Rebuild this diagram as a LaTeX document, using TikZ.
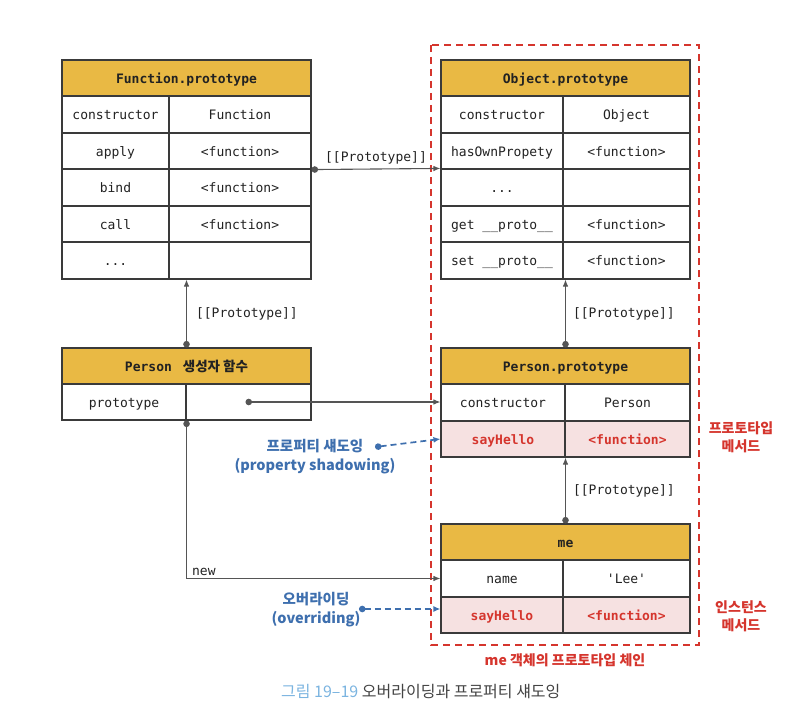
\documentclass[tikz,border=0pt]{standalone}
\usepackage{fontspec}
\setmonofont{DejaVu Sans Mono}
\newfontfamily\kr{Noto Sans CJK KR}
\usetikzlibrary{arrows.meta}
\definecolor{gold}{HTML}{E9B944}
\definecolor{pinkc}{HTML}{F6E1E1}
\definecolor{redc}{HTML}{D5352D}
\definecolor{bluec}{HTML}{3E6FAE}
\definecolor{capblue}{HTML}{7BB4E0}
\definecolor{linec}{HTML}{3A3A3A}
\definecolor{connc}{HTML}{555555}
\definecolor{txt}{HTML}{222222}
\newcommand\monof{\ttfamily\fontsize{13}{15}\selectfont}
\newcommand\trow[9]{%
 \node[#9, minimum width={(#3-#2)*1pt}, minimum height={(#6-#5)*1pt}] (#1a) at ({(#2+#3)/2},{(#5+#6)/2}) {#7};
 \node[#9, minimum width={(#4-#3)*1pt}, minimum height={(#6-#5)*1pt}] (#1b) at ({(#3+#4)/2},{(#5+#6)/2}) {#8};}
\tikzset{
 box/.style={draw=linec, line width=1.1pt, inner sep=0pt, font=\monof, text=txt, text height=11pt, text depth=0.8pt},
 cellw/.style={box, fill=white},
 hdr/.style={box, fill=gold, font=\monof\bfseries},
 pinkcell/.style={box, fill=pinkc, text=redc, font=\monof\bfseries},
 conn/.style={draw=connc, line width=1.1pt},
 dotarr/.style={conn, {Circle[length=6.5pt]}-{Latex[length=7pt,width=5.5pt]}},
 protolbl/.style={font=\monof, text=txt, inner sep=1pt},
 bluelbl/.style={font=\kr\bfseries\fontsize{14.5}{19}\selectfont, text=bluec, align=center, inner sep=0pt},
 redlbl/.style={font=\kr\bfseries\fontsize{14}{18}\selectfont, text=redc, align=center, inner sep=0pt},
 bluearr/.style={draw=bluec, line width=1.7pt, dash pattern=on 6pt off 4pt, {Circle[length=6.5pt]}-{Latex[length=7pt,width=6pt]}},
}
\begin{document}
\begin{tikzpicture}[x=1pt,y=-1pt]
\useasboundingbox (0,0) rectangle (804,725);
% red dashed frame
\draw[redc, line width=1.9pt, dash pattern=on 7pt off 5pt] (431,45) rectangle (699,645);

% Function.prototype
\node[hdr, minimum width=249pt, minimum height=36pt] (fp) at (186.5,78) {Function.prototype};
\trow{fpa}{62}{169}{311}{96}{133}{constructor}{Function}{cellw}
\trow{fpb}{62}{169}{311}{133}{169}{apply}{<function>}{cellw}
\trow{fpc}{62}{169}{311}{169}{206}{bind}{<function>}{cellw}
\trow{fpd}{62}{169}{311}{206}{242}{call}{<function>}{cellw}
\trow{fpe}{62}{169}{311}{242}{279}{...}{}{cellw}

% Object.prototype
\node[hdr, minimum width=249pt, minimum height=36pt] (op) at (565.5,78) {Object.prototype};
\trow{opa}{441}{563}{690}{96}{133}{constructor}{Object}{cellw}
\trow{opb}{441}{563}{690}{133}{169}{hasOwnPropety}{<function>}{cellw}
\trow{opc}{441}{563}{690}{169}{206}{...}{}{cellw}
\trow{opd}{441}{563}{690}{206}{242}{get \_\_proto\_\_}{<function>}{cellw}
\trow{ope}{441}{563}{690}{242}{279}{set \_\_proto\_\_}{<function>}{cellw}

% Person constructor
\node[hdr, minimum width=249pt, minimum height=36pt] (pc) at (186.5,366) {Person {\kr\bfseries\fontsize{13.5}{15}\selectfont\ 생성자 함수}};
\trow{pca}{62}{186}{311}{384}{420}{prototype}{}{cellw}

% Person.prototype
\node[hdr, minimum width=249pt, minimum height=36pt] (pp) at (565.5,366) {Person.prototype};
\trow{ppa}{441}{565}{690}{384}{421}{constructor}{Person}{cellw}
\trow{ppb}{441}{565}{690}{421}{457}{sayHello}{<function>}{pinkcell}

% me
\node[hdr, minimum width=249pt, minimum height=36pt] (me) at (565.5,542) {me};
\trow{mea}{441}{563}{690}{560}{597}{name}{'Lee'}{cellw}
\trow{meb}{441}{563}{690}{597}{633}{sayHello}{<function>}{pinkcell}

% connectors
\draw[dotarr] (fpbb.south east) -- node[protolbl, above=3pt] {[[Prototype]]} (opca.north west);
\draw[dotarr] (pc.north) -- node[protolbl, right=8pt, pos=0.5] {[[Prototype]]} (pc.north |- fpea.south);
\draw[dotarr] (pp.north) -- node[protolbl, right=6pt] {[[Prototype]]} (pp.north |- opea.south);
\draw[dotarr] (me.north) -- node[protolbl, right=6pt] {[[Prototype]]} (me.north |- ppba.south);
\coordinate (pdot) at ([xshift=-3pt]pcab.center);
\draw[dotarr] (pdot) -- (pdot -| ppaa.west);
\draw[dotarr] (pcaa.south east) |- node[protolbl, pos=0.5, anchor=south west, xshift=4pt, yshift=1pt] {new} (meaa.west);

% blue labels
\node[bluelbl] (shadow) at (315,457) {프로퍼티 섀도잉\\(property shadowing)};
\coordinate (shdot) at (375,447);
\draw[bluearr] (shdot) -- (ppba.west);
\node[bluelbl] (over) at (316,610) {오버라이딩\\(overriding)};
\coordinate (ovdot) at (359,609);
\draw[bluearr] (ovdot) -- (ovdot -| meba.west);

% red labels
\node[redlbl] (protometh) at (741,437) {프로토타입\\메서드};
\node[redlbl] (instmeth) at (741,616) {인스턴스\\메서드};
\node[redlbl] (chain) at (565,660) {me 객체의 프로토타입 체인};

% caption
\node[anchor=west, inner sep=0pt, font=\kr\fontsize{16}{19}\selectfont] (cap) at (281,692) {\textcolor{capblue}{그림 19–19} \textcolor{txt!85}{오버라이딩과 프로퍼티 섀도잉}};
\end{tikzpicture}
\end{document}
